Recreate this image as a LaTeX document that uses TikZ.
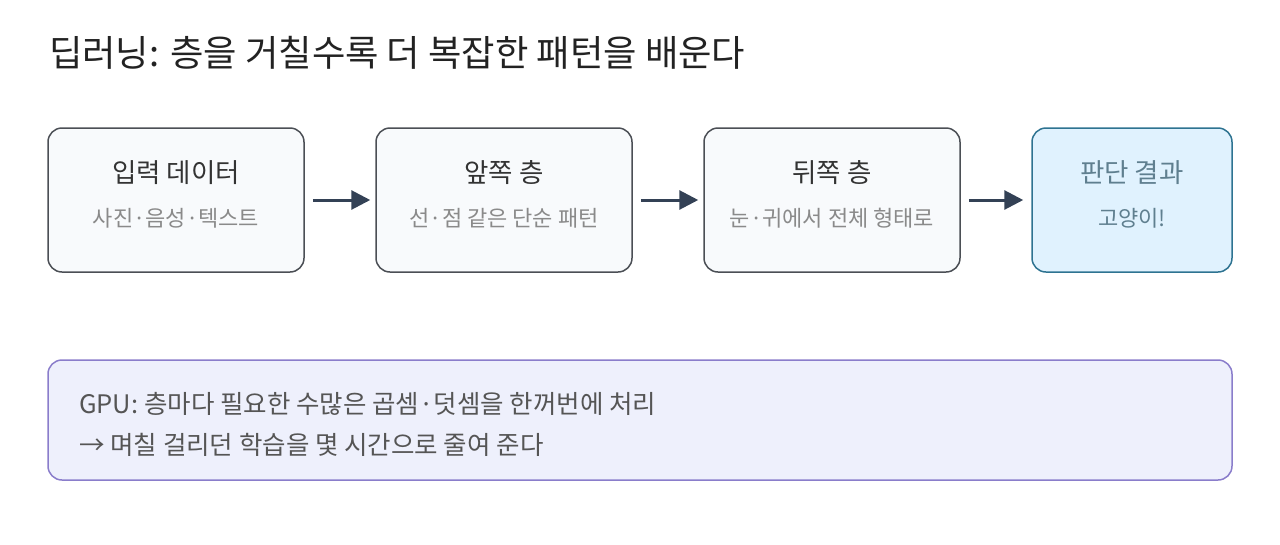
\documentclass[tikz,border=0pt]{standalone}
\usepackage{fontspec}
\setmainfont{Noto Sans CJK KR}
\usetikzlibrary{arrows.meta}
\definecolor{boxfill}{HTML}{F8FAFC}
\definecolor{boxdraw}{HTML}{4B4F55}
\definecolor{headtxt}{HTML}{333333}
\definecolor{subtxt}{HTML}{8A8A8A}
\definecolor{resfill}{HTML}{E0F2FE}
\definecolor{resdraw}{HTML}{2E7391}
\definecolor{restxt}{HTML}{5F7F8F}
\definecolor{gpufill}{HTML}{EEF0FC}
\definecolor{gpudraw}{HTML}{8A7DCB}
\definecolor{gputxt}{HTML}{555555}
\definecolor{arrowc}{HTML}{334155}
\definecolor{titletxt}{HTML}{222222}
\tikzset{
  stage/.style={draw=boxdraw, fill=boxfill, line width=1.5pt, rounded corners=14pt, minimum width=256pt, minimum height=144pt, inner sep=0pt},
  result/.style={stage, draw=resdraw, fill=resfill, minimum width=200pt},
  gpubox/.style={draw=gpudraw, fill=gpufill, line width=1.5pt, rounded corners=14pt, minimum width=1184pt, minimum height=120pt, inner sep=0pt},
  headlabel/.style={font=\fontsize{26.5}{30}\selectfont, text=headtxt, anchor=center, inner sep=0pt},
  sublabel/.style={font=\fontsize{22}{26}\selectfont, text=subtxt, anchor=center, inner sep=0pt},
  gpulabel/.style={font=\fontsize{25.5}{30}\selectfont, text=gputxt, anchor=west, inner sep=0pt},
  flow/.style={draw=arrowc, line width=3pt, -{Triangle[length=19pt,width=19pt]}},
}
\begin{document}
\begin{tikzpicture}[x=1pt,y=-1pt]
\useasboundingbox (0,0) rectangle (1280,544);
\node[anchor=west, inner sep=0pt, font=\fontsize{36.3}{42}\selectfont, text=titletxt] (title) at (49,53) {딥러닝: 층을 거칠수록 더 복잡한 패턴을 배운다};

\node[stage] (b1) at (176,200) {};
\node[stage] (b2) at (504,200) {};
\node[stage] (b3) at (832,200) {};
\node[result] (b4) at (1132,200) {};

\node[headlabel] (h1) at (176,173) {입력 데이터};
\node[sublabel] (s1) at (176,218) {사진·음성·텍스트};
\node[headlabel] (h2) at (504,173) {앞쪽 층};
\node[sublabel] (s2) at (504,218) {선·점 같은 단순 패턴};
\node[headlabel] (h3) at (832,173) {뒤쪽 층};
\node[sublabel] (s3) at (832,218) {눈·귀에서 전체 형태로};
\node[headlabel, text=restxt] (h4) at (1132,173) {판단 결과};
\node[sublabel, text=restxt] (s4) at (1132,218) {고양이!};

\draw[flow] ([xshift=8pt]b1.east) -- ([xshift=-5pt]b2.west);
\draw[flow] ([xshift=8pt]b2.east) -- ([xshift=-5pt]b3.west);
\draw[flow] ([xshift=8pt]b3.east) -- ([xshift=-8pt]b4.west);

\node[gpubox] (gpu) at (640,420) {};
\node[gpulabel] (g1) at (79,404) {GPU: 층마다 필요한 수많은 곱셈·덧셈을 한꺼번에 처리};
\node[gpulabel] (g2) at (79,445) {→ 며칠 걸리던 학습을 몇 시간으로 줄여 준다};
\end{tikzpicture}
\end{document}
